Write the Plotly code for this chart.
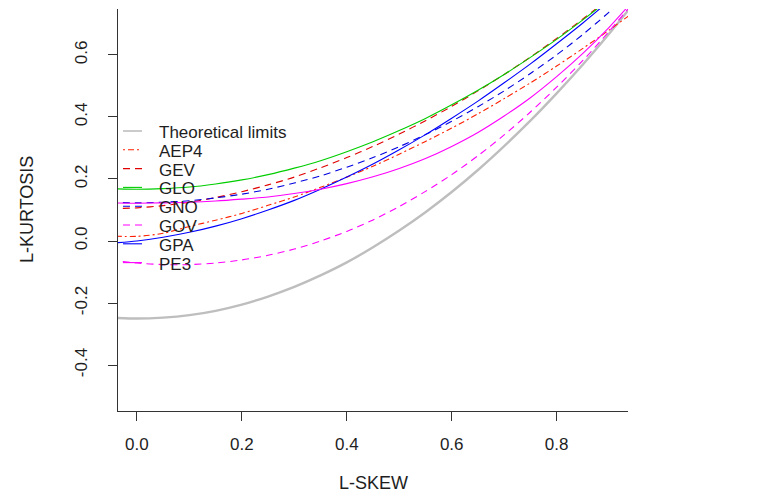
import plotly.graph_objects as go

# ---------------- data ----------------
tau3 = [-0.05, 0.00, 0.05, 0.10, 0.15, 0.20, 0.25, 0.30, 0.35, 0.40, 0.45,
        0.50, 0.55, 0.60, 0.65, 0.70, 0.75, 0.80, 0.85, 0.90, 0.95, 1.00]

limits = [-0.247, -0.250, -0.247, -0.239, -0.225, -0.205, -0.179, -0.148, -0.111, -0.069, -0.020,
          0.034, 0.093, 0.158, 0.229, 0.306, 0.388, 0.476, 0.569, 0.668, 0.773, 0.884]
aep4 = [0.016, 0.015, 0.025, 0.047, 0.067, 0.089, 0.115, 0.142, 0.173, 0.206, 0.241,
        0.280, 0.321, 0.364, 0.410, 0.459, 0.510, 0.564, 0.621, 0.680, 0.742, 0.807]
gev = [0.104, 0.107, 0.114, 0.125, 0.140, 0.159, 0.181, 0.206, 0.236, 0.269, 0.305,
       0.345, 0.388, 0.434, 0.484, 0.537, 0.593, 0.653, 0.716, 0.782, 0.851, 0.925]
glo = [0.169, 0.167, 0.169, 0.174, 0.184, 0.197, 0.214, 0.235, 0.259, 0.288, 0.320,
       0.356, 0.395, 0.439, 0.486, 0.537, 0.592, 0.650, 0.713, 0.779, 0.849, 0.923]
gno = [0.125, 0.123, 0.125, 0.130, 0.139, 0.151, 0.167, 0.187, 0.210, 0.238, 0.269,
       0.304, 0.343, 0.386, 0.433, 0.484, 0.540, 0.600, 0.666, 0.738, 0.816, 0.900]
gov = [-0.062, -0.071, -0.076, -0.076, -0.071, -0.061, -0.046, -0.026, 0.000, 0.031, 0.068,
       0.111, 0.160, 0.214, 0.275, 0.342, 0.416, 0.496, 0.582, 0.676, 0.777, 0.885]
gpa = [-0.007, 0.000, 0.012, 0.028, 0.048, 0.072, 0.100, 0.131, 0.167, 0.206, 0.248,
       0.294, 0.343, 0.396, 0.451, 0.510, 0.571, 0.636, 0.703, 0.774, 0.846, 0.922]
pe3 = [0.123, 0.122, 0.123, 0.125, 0.129, 0.135, 0.142, 0.153, 0.167, 0.185, 0.207,
       0.234, 0.266, 0.305, 0.350, 0.403, 0.462, 0.530, 0.605, 0.689, 0.783, 0.880]

x_ticks = [0.0, 0.2, 0.4, 0.6, 0.8]
x_ticktext = ["0.0", "0.2", "0.4", "0.6", "0.8"]
y_ticks = [-0.4, -0.2, 0.0, 0.2, 0.4, 0.6]
y_ticktext = ["-0.4", "-0.2", "0.0", "0.2", "0.4", "0.6"]

legend_names = ["Theoretical limits", "AEP4", "GEV", "GLO", "GNO", "GOV", "GPA", "PE3"]

# ---------------- styles ----------------
FONT = "Liberation Sans, Arial, sans-serif"
TXT = "#1e1e1e"
DASH = "7px,5px"
DOTDASH = "2px,3px,6px,3px"
series = [
    ("Theoretical limits", limits, "#BEBEBE", 2.4, "solid"),
    ("AEP4", aep4, "#FF2000", 1.1, DOTDASH),
    ("GEV", gev, "#E00000", 1.1, DASH),
    ("GLO", glo, "#00CD00", 1.1, "solid"),
    ("GNO", gno, "#0000E0", 1.1, DASH),
    ("GOV", gov, "#FF00FF", 1.1, DASH),
    ("GPA", gpa, "#0000FF", 1.1, "solid"),
    ("PE3", pe3, "#FF00FF", 1.1, "solid"),
]

fig = go.Figure()
for name, vals, col, w, dash in series:
    fig.add_trace(go.Scatter(x=tau3, y=vals, mode="lines", name=name, showlegend=False,
                             line=dict(color=col, width=w, dash=dash, shape="spline", smoothing=0.8)))

# plot-area geometry (pixels)
L, R, T, B = 118, 628, 9, 411
W, H = 762, 495
def px(xp):
    return (xp - L) / (R - L)
def py(yp):
    return (B - yp) / (B - T)

fig.update_layout(
    width=W, height=H,
    margin=dict(l=L, r=W - R, t=T, b=H - B, pad=0),
    paper_bgcolor="white", plot_bgcolor="white",
    font=dict(family=FONT, size=17, color=TXT),
    showlegend=False,
    xaxis=dict(range=[-0.036, 0.936], tickvals=x_ticks, ticktext=x_ticktext,
               showgrid=False, zeroline=False, showline=True, linecolor="#333", linewidth=1,
               ticks="outside", ticklen=9, tickcolor="#333", tickwidth=1,
               ticklabelstandoff=9, tickfont=dict(size=17, color=TXT)),
    yaxis=dict(range=[-0.548, 0.748], tickvals=y_ticks, ticktext=y_ticktext,
               showgrid=False, zeroline=False, showline=True, linecolor="#333", linewidth=1,
               ticks="outside", ticklen=9, tickcolor="#333", tickwidth=1, tickangle=-90,
               ticklabelstandoff=14, tickfont=dict(size=17, color=TXT)),
)

# axis titles
fig.add_annotation(text="L-SKEW", xref="paper", yref="paper", x=px(373), y=py(483),
                   showarrow=False, xanchor="center", yanchor="middle",
                   font=dict(size=18, color=TXT, family=FONT))
fig.add_annotation(text="L-KURTOSIS", xref="paper", yref="paper", x=px(27), y=py(210),
                   showarrow=False, xanchor="center", yanchor="middle", textangle=-90,
                   font=dict(size=18, color=TXT, family=FONT))

# manual legend (R-style, no box)
row0, step = 132.5, 18.8
for i, (name, vals, col, w, dash) in enumerate(series):
    yy = row0 + i * step
    fig.add_shape(type="line", xref="paper", yref="paper",
                  x0=px(123), x1=px(142), y0=py(yy - 1.5), y1=py(yy - 1.5),
                  line=dict(color=col, width=min(w, 1.6), dash=dash))
    fig.add_annotation(text=legend_names[i], xref="paper", yref="paper",
                       x=px(157), y=py(yy), showarrow=False, xanchor="left", yanchor="middle",
                       font=dict(size=17, color=TXT, family=FONT))

fig.write_html("out.html", config={"displayModeBar": False},
               post_script="document.body.style.margin='0px';")
